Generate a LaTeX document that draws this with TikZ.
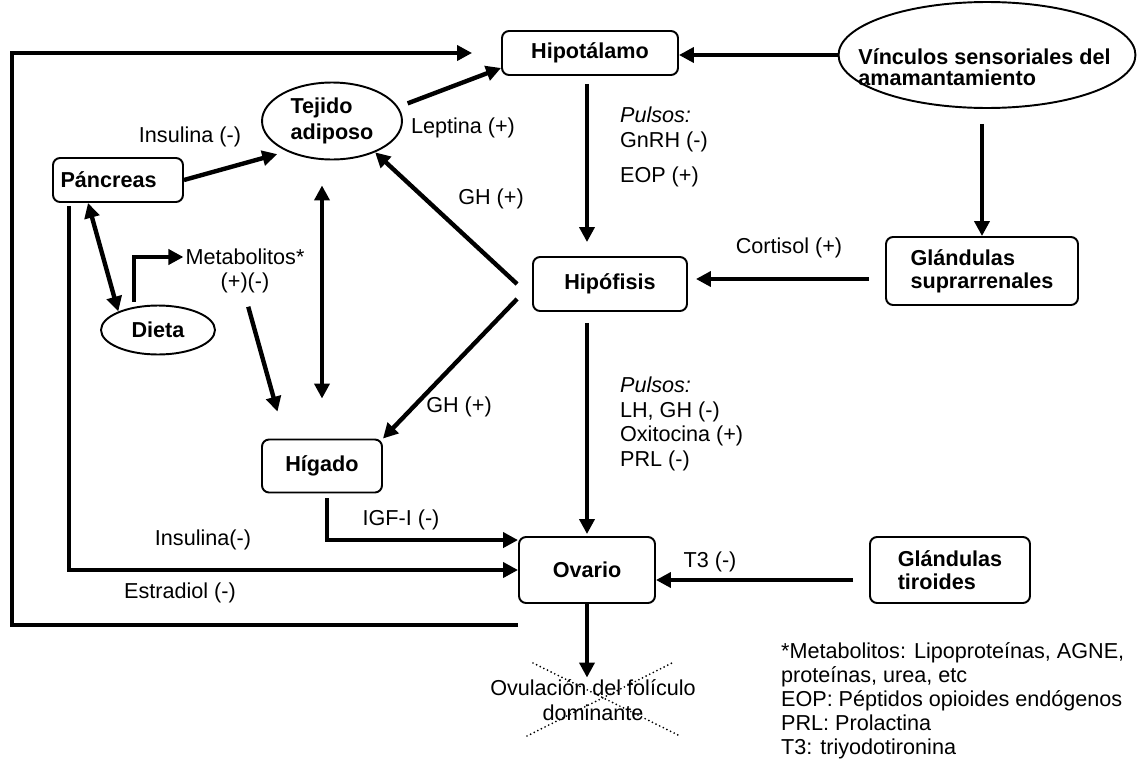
\documentclass[tikz,border=0pt]{standalone}
\usepackage{fontspec}
\setmainfont{Liberation Sans}
\usepackage{tikz}
\usetikzlibrary{arrows.meta,shapes.geometric}
\tikzset{
    Box/.style = {draw, rounded corners=4pt, line width=1.1pt, align=center, inner sep=2pt,
        font=\fontsize{12.3pt}{13pt}\selectfont\bfseries},
    Oval/.style = {draw, ellipse, line width=1.1pt, align=left, inner sep=0pt,
        font=\fontsize{12.3pt}{14.5pt}\selectfont\bfseries},
    Label/.style = {inner sep=1pt, align=center, font=\fontsize{12.3pt}{14pt}\selectfont},
    Conn/.style = {line width=2.5pt, -{Triangle[length=8.5pt,width=8.5pt]}},
    BiConn/.style = {line width=2.5pt, {Triangle[length=8.5pt,width=8.5pt]}-{Triangle[length=8.5pt,width=8.5pt]}},
    Cross/.style = {line width=1.1pt, line cap=round, dash pattern=on 0pt off 2.3pt}
}
\begin{document}
\begin{tikzpicture}[x=0.02cm, y=-0.02cm]
    \useasboundingbox (0,0) rectangle (1137,771);
    \node[Box, minimum width=3.52cm, minimum height=0.88cm] (hipot) at (590,53) {Hipotálamo};
    \node[Oval, minimum width=5.94cm, minimum height=2.12cm] (vinculos) at (987,55) {};
    \node[anchor=west, align=left, inner sep=0pt, font=\fontsize{12.3pt}{12pt}\selectfont\bfseries]
        (vinculostxt) at (858,67) {Vínculos sensoriales del\\amamantamiento};
    \node[Box, minimum width=3.84cm, minimum height=1.36cm, align=left] (supra) at (982,271) {Glándulas\\suprarrenales};
    \node[Box, minimum width=3.08cm, minimum height=1.08cm] (hipof) at (610,284) {Hipófisis};
    \node[Oval, minimum width=2.8cm, minimum height=1.54cm] (tejido) at (332,121) {Tejido\\adiposo};
    \node[Box, minimum width=2.6cm, minimum height=0.88cm, text width=2.3cm, align=left] (pancreas) at (118,180) {Páncreas};
    \node[Oval, minimum width=2.28cm, minimum height=0.98cm] (dieta) at (158,330) {Dieta};
    \node[Box, minimum width=2.4cm, minimum height=1.06cm] (higado) at (322,466) {Hígado};
    \node[Box, minimum width=2.72cm, minimum height=1.32cm] (ovario) at (587,570) {Ovario};
    \node[Box, minimum width=3.2cm, minimum height=1.32cm, align=left] (tiroides) at (950,570) {Glándulas\\tiroides};

    \foreach \n/\p/\t in {insA/{190,137}/Insulina (-), leptina/{463,128}/Leptina (+),
        cortisol/{789,248}/Cortisol (+), ghA/{491,199}/GH (+), ghB/{459,407}/GH (+),
        metab/{245,257}/Metabolitos*, metabsign/{245,283}/(+)(-), igf/{401,520}/IGF-I (-),
        insB/{203,540}/Insulina(-), estradiol/{180,593}/Estradiol (-), tres/{710,562}/T3 (-)}
        {\node[Label] (\n) at (\p) {\t};}
    \node[Label, anchor=west, align=left] (pulsosA) at (618,147) {\textit{Pulsos:}\\GnRH (-)\\[0.2cm]EOP (+)};
    \node[Label, anchor=west, align=left] (pulsosB) at (618,424) {\textit{Pulsos:}\\LH, GH (-)\\Oxitocina (+)\\PRL (-)};
    \node[Label] (ovulacion) at (593,700) {Ovulación del folículo\\dominante};
    \node[Label, anchor=west, align=left, font=\fontsize{12.3pt}{13.7pt}\selectfont] (leyenda) at (779,701)
        {*Metabolitos: Lipoproteínas, AGNE,\\proteínas, urea, etc\\EOP: Péptidos opioides endógenos\\PRL: Prolactina\\T3: triyodotironina};

    \draw[Conn] ([yshift=-0.42cm]ovario.south west) -- ++(-506,0) |- ([xshift=-0.58cm]hipot.west);
    \draw[Conn] ([xshift=0.34cm,yshift=-0.06cm]pancreas.south west) |- (ovario.west);
    \draw[Conn] ([xshift=0.1cm,yshift=-0.1cm]higado.south) |- ([yshift=-0.08cm]ovario.north west);
    \draw[BiConn] ([xshift=-0.6cm]pancreas.south) -- (dieta.155);
    \draw[Conn] ([xshift=-0.48cm,yshift=0.06cm]dieta.north) |- (metab.west);
    \draw[Conn, shorten <=0.24cm, shorten >=0.56cm] (metabsign.south) -- ([xshift=0.48cm]higado.north west);
    \draw[BiConn, shorten <=0.5cm, shorten >=0.8cm] (tejido.south -| higado.north) -- (higado.north);
    \draw[Conn, shorten >=0.2cm] (pancreas.east) -- (tejido.214);
    \draw[Conn, shorten <=0.2cm] (tejido.12) -- ([yshift=0.16cm]hipot.south west);
    \draw[Conn] ([xshift=-0.3cm]hipof.west) -- (tejido.324);
    \draw[Conn] ([xshift=-0.3cm,yshift=-0.3cm]hipof.west) -- (higado.north east);
    \draw[Conn, shorten <=0.16cm, shorten >=0.28cm] (ovario.north |- hipot.south) -- (ovario.north |- hipof.north);
    \draw[Conn, shorten <=0.22cm, shorten >=0.04cm] (ovario.north |- hipof.south) -- (ovario.north);
    \draw[Conn] (vinculos.west) -- (vinculos.west -| hipot.east);
    \draw[Conn, shorten <=0.3cm] (supra.north |- vinculos.south) -- (supra.north);
    \draw[Conn, shorten <=0.32cm, shorten >=0.16cm] ([yshift=-0.16cm]supra.west) -- ([yshift=-0.16cm]supra.west -| hipof.east);
    \draw[Conn, shorten <=0.32cm] ([yshift=-0.2cm]tiroides.west) -- ([yshift=-0.2cm]ovario.east);
    \draw[Conn] (ovario.south) -- (ovario.south |- ovulacion.north);
    \foreach \a/\b in {{533,663}/{678,735}, {527,736}/{672,663}}
        {\draw[Cross] (\a) -- (\b);}
\end{tikzpicture}
\end{document}
